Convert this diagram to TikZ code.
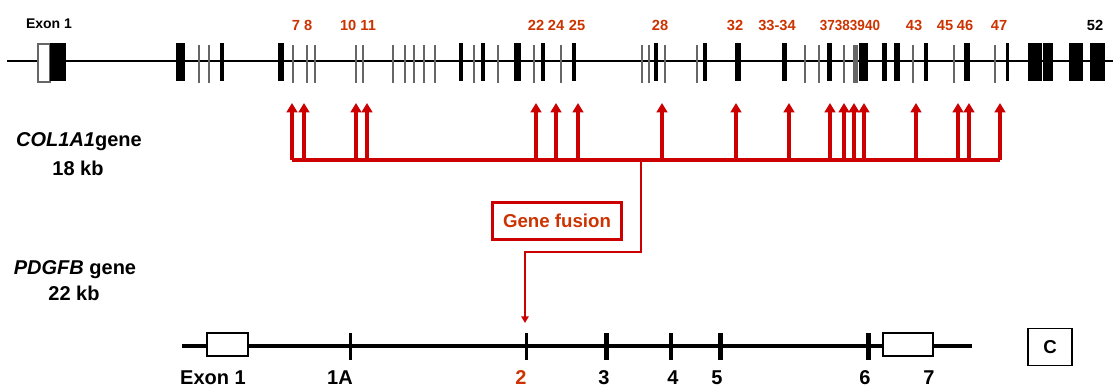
\documentclass[tikz,border=0pt]{standalone}
\usepackage{fontspec}
\setmainfont{Liberation Sans}
\usetikzlibrary{arrows.meta}
\definecolor{fusred}{RGB}{204,0,0}
\definecolor{labred}{RGB}{204,51,0}
\begin{document}
\begin{tikzpicture}[x=0.75pt, y=-0.75pt, >={Triangle[width=8pt,length=7pt]},
	exonnum/.style={font=\bfseries\fontsize{11}{11}\selectfont, text=labred, inner sep=0pt, anchor=base},
	genelab/.style={font=\bfseries\fontsize{15}{15}\selectfont, inner sep=0pt},
	pdgfnum/.style={font=\bfseries\fontsize{15}{15}\selectfont, inner sep=0pt, anchor=base}]
	\useasboundingbox (0,0) rectangle (1115,387);
	
	% COL1A1 gene
	\draw[line width=2pt] (7,61) -- (1113,61);
	\draw[black!60, fill=white, line width=0.8pt] (38,44) rectangle (50,82);
	\foreach \a/\b in {50/66, 176/185, 220/224, 278/284, 459/463, 481/485, 514/521,
		541/545, 572/576, 654/658, 703/707, 735/741, 782/787, 827/832, 859/868,
		882/887, 894/900, 924/928, 964/970, 1006/1009, 1028/1042, 1043/1053,
		1069/1083, 1090/1105}
	\fill (\a,43) rectangle (\b,81);
	\foreach \x in {199, 209, 293, 307, 315, 356, 363, 393, 405, 414, 424, 435, 474,
		498, 534, 561, 642, 649, 665, 697, 805, 819, 844, 913, 954, 995}
	\fill[black!60] (\x-1.2,45) rectangle (\x+1.2,83);
	\fill[black!60] (853,45) rectangle (858,83);
	
	% Exon numbers
	\node[font=\bfseries\fontsize{10.5}{10.5}\selectfont, inner sep=0pt, anchor=base] (ex1) at (49,28) {Exon 1};
	\node[exonnum] (n78) at (302,30) {7 8};
	\node[exonnum] (n1011) at (358,30) {10 11};
	\node[exonnum] (n22) at (536,30) {22};
	\node[exonnum] (n24) at (556,30) {24};
	\node[exonnum] (n25) at (577,30) {25};
	\node[exonnum] (n28) at (660,30) {28};
	\node[exonnum] (n32) at (735,30) {32};
	\node[exonnum] (n3334) at (777,30) {33-34};
	\node[exonnum, xscale=0.92] (n3740) at (850,30) {37383940};
	\node[exonnum] (n43) at (914,30) {43};
	\node[exonnum] (n45) at (945,30) {45};
	\node[exonnum] (n46) at (965,30) {46};
	\node[exonnum] (n47) at (999,30) {47};
	\node[exonnum, text=black] (n52) at (1095,30) {52};
	
	% Breakpoints
	\coordinate (busL) at (292,160);
	\coordinate (busR) at (1000,160);
	\draw[fusred, line width=2.6pt] (busL) -- (busR);
	\foreach \x [count=\i] in {292, 304, 356, 367, 536, 556, 578, 662, 736, 789, 830,
		844, 854, 864, 916, 958, 969, 1000}
	{
		\coordinate (bus\i) at (\x,160);
		\coordinate (brk\i) at (\x,103);
		\draw[->, fusred, line width=2.3pt] (bus\i) -- (brk\i);
	}
	
	% Gene fusion
	\node[draw=fusred, line width=1.8pt, text=labred, font=\bfseries\fontsize{14}{14}\selectfont,
	minimum width=97pt, minimum height=28pt, inner sep=0pt] (fusion) at (557,221) {Gene fusion};
	\coordinate (split) at (641,160);
	\coordinate (fusetip) at (525,323);
	\draw[-{Triangle[width=5.5pt,length=5pt]}, fusred, line width=1.8pt] (split) |- (525,252) -- (fusetip);
	
	% Gene labels
	\node[genelab] (colname) at (79,142) {\textit{COL1A1}gene};
	\node[genelab] (colsize) at (78,168) {18 kb};
	\node[genelab] (pdgname) at (75,270) {\textit{PDGFB} gene};
	\node[genelab] (pdgsize) at (74,293) {22 kb};
	
	% PDGFB gene
	\draw[line width=3pt] (182,346) -- (972,346);
	\foreach \x/\w in {350/2, 526/2, 606/4, 671/3, 720/4, 868/4}
	\fill (\x-\w/2-0.5,333) rectangle (\x+\w/2+0.5,360);
	\draw[line width=1.2pt, fill=white] (207,333) rectangle (248,356);
	\draw[line width=1.2pt, fill=white] (883,333) rectangle (933,356);
	
	% PDGFB exon numbers
	\node[pdgfnum] (p1) at (213,384) {Exon 1};
	\node[pdgfnum] (p1a) at (340,384) {1A};
	\node[pdgfnum, text=labred] (p2) at (521,384) {2};
	\node[pdgfnum] (p3) at (604,384) {3};
	\node[pdgfnum] (p4) at (673,384) {4};
	\node[pdgfnum] (p5) at (717,384) {5};
	\node[pdgfnum] (p6) at (865,384) {6};
	\node[pdgfnum] (p7) at (929,384) {7};
	
	% Panel letter
	\node[draw, line width=1.2pt, minimum width=33pt, minimum height=28pt, inner sep=0pt,
	font=\bfseries\fontsize{14}{14}\selectfont] (panel) at (1050,347) {C};
	
\end{tikzpicture}
\end{document}
